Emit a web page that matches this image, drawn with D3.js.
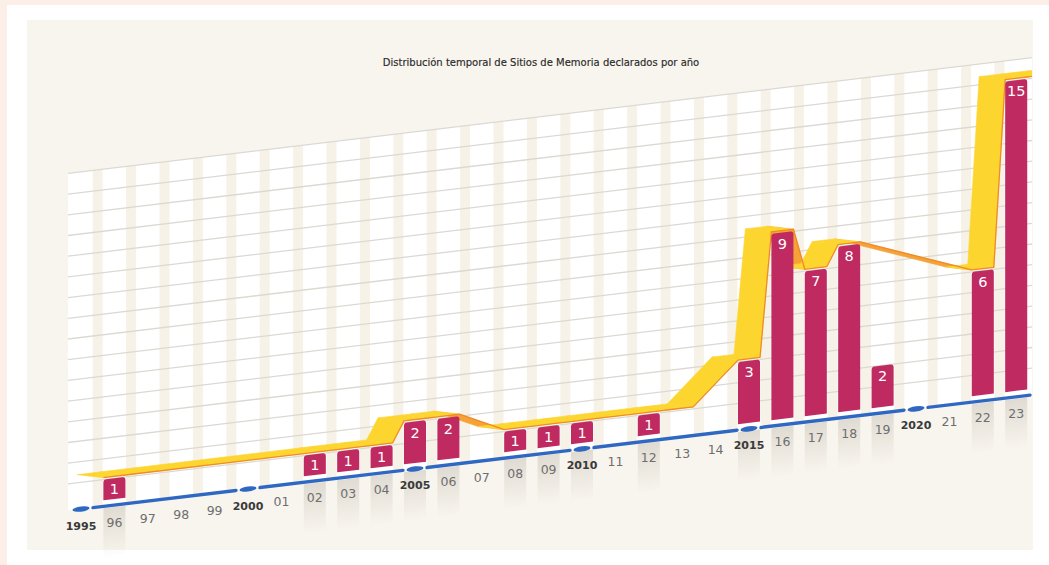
<!DOCTYPE html>
<html><head><meta charset="utf-8">
<script src="https://cdn.jsdelivr.net/npm/d3@7"></script>
<style>body{margin:0;background:#fff}svg{display:block}</style>
</head><body>
<svg id="chart" width="1049" height="565"></svg>
<script>
// ---- data ----
const years = d3.range(1995, 2024);
const yearLabels = ["1995","96","97","98","99","2000","01","02","03","04","2005","06","07","08","09","2010","11","12","13","14","2015","16","17","18","19","2020","21","22","23"];
const sitiosDeclarados = [0,1,0,0,0,0,0,1,1,1,2,2,0,1,1,1,0,1,0,0,3,9,7,8,2,0,0,6,15];
// decorative ribbon levels (null = ribbon passes over)
const cintaNiveles = [null,1,null,null,null,null,null,1,1,1,2,2,null,1,1,1,null,1,1,null,3,9,7,8,null,null,null,6,15];
const gridLevels = d3.range(1, 17);
const milestoneYears = [1995, 2000, 2005, 2010, 2015, 2020];
const title = "Distribución temporal de Sitios de Memoria declarados por año";

// ---- layout ----
const W = 1049, H = 565;
const slope = 0.12;          // tilt of the baseline
const Y0 = 512.76;           // local baseline
const unit = 20.7;
const svg = d3.select("#chart");

const x = d3.scaleBand().domain(years).range([64.3, 1032.9]).paddingInner(0.34).paddingOuter(0.17);
const y = d3.scaleLinear().domain([0, 16]).range([Y0, Y0 - 16 * unit]);
const bw = x.bandwidth();
const cx = yr => x(yr) + bw / 2;
const gY = (px, ly) => ly - slope * px;   // local -> global y

// backgrounds
svg.append("rect").attr("width", W).attr("height", H).attr("fill", "#fcefe8");
svg.append("rect").attr("x", 7).attr("y", 5).attr("width", W - 7).attr("height", H - 5).attr("fill", "#ffffff");
svg.append("rect").attr("x", 27).attr("y", 20).attr("width", 1006).attr("height", 530).attr("fill", "#f8f5ee");

svg.append("text").attr("x", 541).attr("y", 62).attr("text-anchor", "middle")
  .attr("dominant-baseline", "central")
  .attr("font-family", "DejaVu Sans").attr("font-size", 10).attr("fill", "#2a2a2a")
  .attr("stroke", "#2a2a2a").attr("stroke-width", 0.15)
  .text(title);

const defs = svg.append("defs");
const grad = defs.append("linearGradient").attr("id", "shadow").attr("x1", 0).attr("y1", 0).attr("x2", 0).attr("y2", 1);
grad.append("stop").attr("offset", 0).attr("stop-color", "#8a8070").attr("stop-opacity", 0.22);
grad.append("stop").attr("offset", 1).attr("stop-color", "#8a8070").attr("stop-opacity", 0);
defs.append("clipPath").attr("id", "clipR").append("rect")
  .attr("x", 0).attr("y", 0).attr("width", 1032).attr("height", 700);

const g = svg.append("g").attr("transform", `matrix(1,${-slope},0,1,0,0)`);

// white plot area
const xL = 68, xR = 1032;
g.append("rect").attr("x", xL).attr("y", y(16)).attr("width", xR - xL).attr("height", Y0 + 6 - y(16)).attr("fill", "#ffffff");
// beige vertical stripes between years
g.selectAll("rect.stripe").data(years.slice(0, -1)).join("rect").attr("class", "stripe")
  .attr("x", d => x(d) + bw / 2 + x.step() / 2 - 5)
  .attr("y", y(16)).attr("width", 10).attr("height", Y0 + 6 - y(16)).attr("fill", "#f6f2e7");
// grid lines
g.selectAll("line.grid").data(gridLevels).join("line").attr("class", "grid")
  .attr("x1", xL).attr("x2", xR).attr("y1", d => y(d)).attr("y2", d => y(d))
  .attr("stroke", "#dcd9d3").attr("stroke-width", 1.3);

// shadows under bars
const withVal = years.map((yr, i) => ({ yr, v: sitiosDeclarados[i], c: cintaNiveles[i], i }));
g.selectAll("rect.sh").data(withVal.filter(d => d.v > 0)).join("rect").attr("class", "sh")
  .attr("x", d => x(d.yr)).attr("y", Y0 + 8).attr("width", bw).attr("height", 50)
  .attr("fill", "url(#shadow)");

// blue baseline with milestone dashes
const blueY = Y0 + 6;
const ms = milestoneYears.map(cx);
const segs = [];
for (let k = 0; k < ms.length; k++) {
  const a = ms[k] + 12, b = k < ms.length - 1 ? ms[k + 1] - 12 : 1030;
  segs.push([a, b]);
}
g.selectAll("line.blue").data(segs).join("line").attr("class", "blue")
  .attr("x1", d => d[0]).attr("x2", d => d[1]).attr("y1", blueY).attr("y2", blueY)
  .attr("stroke", "#2f68c2").attr("stroke-width", 3.4).attr("stroke-linecap", "round");
g.selectAll("ellipse.ms").data(ms).join("ellipse").attr("class", "ms")
  .attr("cx", d => d).attr("cy", blueY).attr("rx", 8.5).attr("ry", 2.6).attr("fill", "#2f68c2");

// ribbon
const off = { x: -26, y: -6.1 };
const pts = [];
withVal.forEach(d => {
  if (d.c != null) {
    pts.push([x(d.yr), y(d.c) - 2]);
    pts.push([x(d.yr) + bw, y(d.c) - 2]);
  }
});
pts.push([pts[pts.length - 1][0] + 30, pts[pts.length - 1][1]]);
const quads = [];
for (let i = 0; i < pts.length - 1; i++) {
  const p = pts[i], q = pts[i + 1];
  const dx = q[0] - p[0], dy = q[1] - p[1];
  if (Math.abs(dx) + Math.abs(dy) < 0.01) continue;
  const cr = dx * off.y - dy * off.x;
  quads.push({ poly: [p, q, [q[0] + off.x, q[1] + off.y], [p[0] + off.x, p[1] + off.y]], front: cr < 0 });
}
const rib = g.append("g").attr("clip-path", "url(#clipR)");
rib.selectAll("path.back").data(quads.filter(q => !q.front)).join("path").attr("class", "back")
  .attr("d", q => "M" + q.poly.join("L") + "Z").attr("fill", "#f5a236").attr("stroke", "#f5a236").attr("stroke-width", 0.6);
rib.selectAll("path.front").data(quads.filter(q => q.front)).join("path").attr("class", "front")
  .attr("d", q => "M" + q.poly.join("L") + "Z").attr("fill", "#fdd52f").attr("stroke", "#fdd52f").attr("stroke-width", 0.6);
rib.append("path").attr("d", d3.line()(pts)).attr("fill", "none").attr("stroke", "#f08a2a").attr("stroke-width", 1.3);

// bars
const r = 3;
g.selectAll("path.bar").data(withVal.filter(d => d.v > 0)).join("path").attr("class", "bar")
  .attr("d", d => {
    const a = x(d.yr), b = a + bw, t = y(d.v), bt = Y0;
    return `M${a},${bt}L${a},${t + r}Q${a},${t} ${a + r},${t}L${b - r},${t}Q${b},${t} ${b},${t + r}L${b},${bt}Z`;
  })
  .attr("fill", "#bf2a60");

// value labels
svg.selectAll("text.val").data(withVal.filter(d => d.v > 0)).join("text").attr("class", "val")
  .attr("x", d => cx(d.yr)).attr("y", d => gY(cx(d.yr), y(d.v)) + 11)
  .attr("text-anchor", "middle").attr("dominant-baseline", "central")
  .attr("font-family", "DejaVu Sans").attr("font-size", 14.5).attr("fill", "#fff")
  .text(d => d.v);

// year labels
svg.selectAll("text.yr").data(withVal).join("text").attr("class", "yr")
  .attr("x", d => cx(d.yr)).attr("y", d => gY(cx(d.yr), Y0) + 23)
  .attr("text-anchor", "middle").attr("dominant-baseline", "central")
  .attr("font-family", "DejaVu Sans")
  .attr("font-size", d => milestoneYears.includes(d.yr) ? 11 : 12.5)
  .attr("font-weight", d => milestoneYears.includes(d.yr) ? "bold" : "normal")
  .attr("fill", d => milestoneYears.includes(d.yr) ? "#3a3a3a" : "#6e6e6e")
  .text(d => yearLabels[d.i]);
</script>
</body></html>
